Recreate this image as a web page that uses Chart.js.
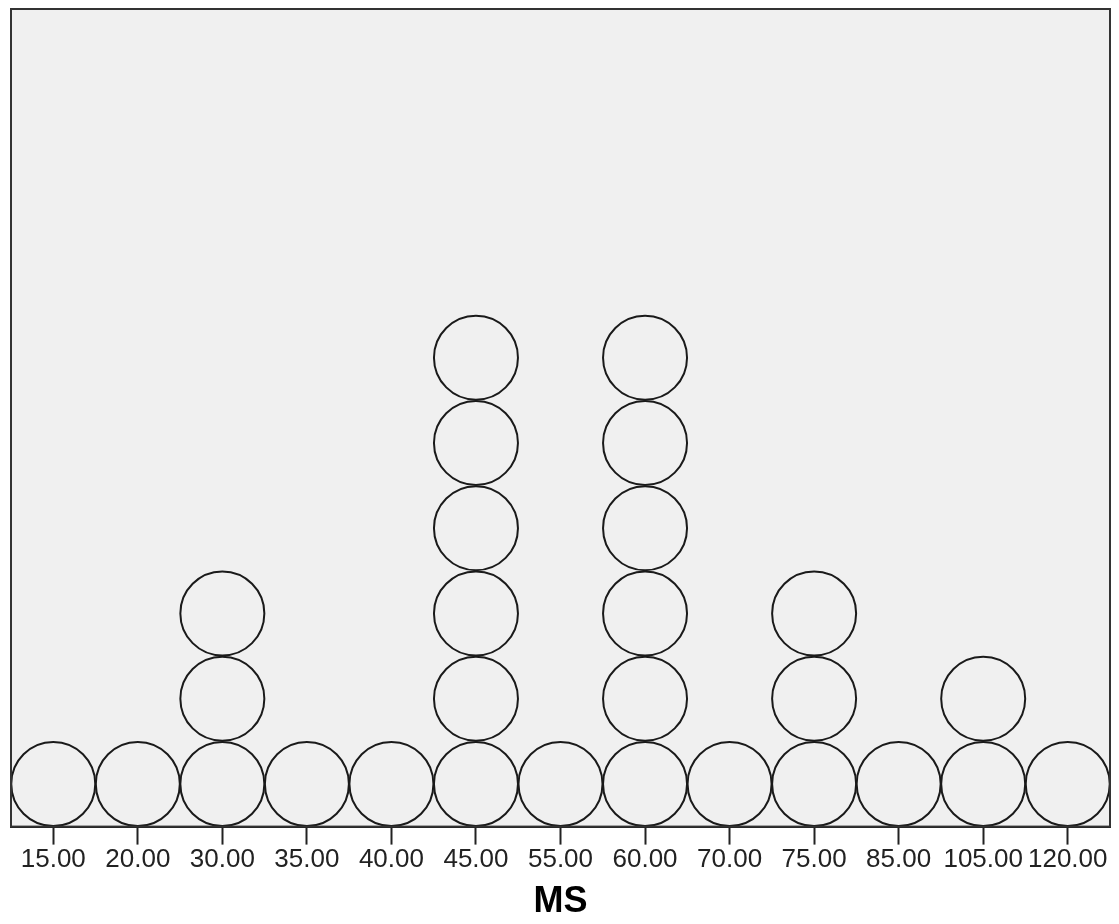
<!DOCTYPE html>
<html lang="en">
<head>
    <meta charset="UTF-8" />
    <title>MS dot plot</title>
    <script src="https://cdn.jsdelivr.net/npm/chart.js"></script>
    <style>
        html, body { margin: 0; padding: 0; background: #ffffff; }
        #wrap { width: 1119px; height: 924px; }
    </style>
</head>
<body>
    <div id="wrap"><canvas id="dotChart" width="1119" height="924"></canvas></div>
    <script>
        // MS values and how many cases sit at each value
        const categories = ['15.00', '20.00', '30.00', '35.00', '40.00', '45.00', '55.00',
                            '60.00', '70.00', '75.00', '85.00', '105.00', '120.00'];
        const counts = [1, 1, 3, 1, 1, 6, 1, 6, 1, 3, 1, 2, 1];
        const axisTitle = 'MS';

        // one dot per case, stacked up from the axis
        const dots = [];
        categories.forEach((c, i) => {
            for (let k = 0; k < counts[i]; k++) {
                dots.push({ x: c, y: k + 0.5 });
            }
        });

        const plotFrame = {
            id: 'plotFrame',
            beforeDatasetsDraw(chart) {
                const { ctx, chartArea: a } = chart;
                ctx.save();
                ctx.fillStyle = '#f0f0f0';
                ctx.fillRect(a.left, a.top, a.right - a.left, a.bottom - a.top);
                ctx.restore();
            },
            afterDraw(chart) {
                const { ctx, chartArea: a } = chart;
                ctx.save();
                ctx.strokeStyle = '#333333';
                ctx.lineWidth = 2;
                ctx.strokeRect(a.left, a.top, a.right - a.left, a.bottom - a.top);
                ctx.restore();
            }
        };

        new Chart(document.getElementById('dotChart'), {
            type: 'scatter',
            data: {
                datasets: [{
                    data: dots,
                    pointRadius: 42,
                    pointHoverRadius: 42,
                    pointBorderWidth: 2,
                    pointBorderColor: '#1a1a1a',
                    pointBackgroundColor: 'rgba(0,0,0,0)',
                    clip: false
                }]
            },
            options: {
                responsive: false,
                animation: false,
                layout: { autoPadding: false, padding: { top: 9, left: 11, right: 9, bottom: 0 } },
                plugins: {
                    legend: { display: false },
                    tooltip: { enabled: false }
                },
                scales: {
                    x: {
                        type: 'category',
                        labels: categories,
                        offset: true,
                        grid: {
                            drawOnChartArea: false,
                            drawTicks: true,
                            tickLength: 18,
                            tickWidth: 2,
                            tickColor: '#222222'
                        },
                        border: { display: true, color: '#1a1a1a', width: 2 },
                        ticks: {
                            autoSkip: false,
                            maxRotation: 0,
                            padding: 0,
                            color: '#222222',
                            font: { family: 'Liberation Sans, Arial, sans-serif', size: 26 }
                        },
                        title: {
                            display: true,
                            text: axisTitle,
                            color: '#000000',
                            padding: { top: 5, bottom: 0 },
                            font: { family: 'Liberation Sans, Arial, sans-serif', size: 36, weight: 'bold' }
                        }
                    },
                    y: {
                        display: false,
                        min: 0,
                        max: 9.59
                    }
                }
            },
            plugins: [plotFrame]
        });
    </script>
</body>
</html>
